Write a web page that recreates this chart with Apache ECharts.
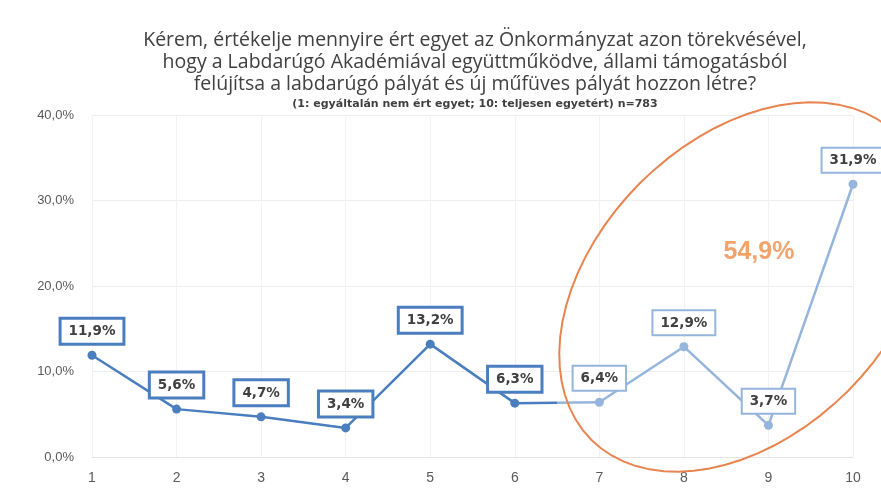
<!DOCTYPE html>
<html>
<head>
<meta charset="utf-8">
<script src="https://cdn.jsdelivr.net/npm/echarts@6/dist/echarts.min.js"></script>
<style>
  html, body { margin: 0; padding: 0; background: #fff; }
  #chart { width: 881px; height: 495px; }
</style>
</head>
<body>
<div id="chart"></div>
<script>
// scale points 1..10
var categories = ['1', '2', '3', '4', '5', '6', '7', '8', '9', '10'];
// share of answers, percent
var shares = [11.9, 5.6, 4.7, 3.4, 13.2, 6.3, 6.4, 12.9, 3.7, 31.9];
var yTicks = [0, 10, 20, 30, 40];
var topShare = '54,9%';

var titleLines = [
  'Kérem, értékelje mennyire ért egyet az Önkormányzat azon törekvésével,',
  'hogy a Labdarúgó Akadémiával együttműködve, állami támogatásból',
  'felújítsa a labdarúgó pályát és új műfüves pályát hozzon létre?'
];
var subTitle = '(1: egyáltalán nem ért egyet; 10: teljesen egyetért) n=783';

var DARK = '#4a7ebf';
var LIGHT = '#95b5dc';
var ORANGE = '#e8844f';
var SPLIT = 6; // answers 7-10 are drawn light

function pct(v) {
  return v.toFixed(1).replace('.', ',') + '%';
}

// keep only values in [from, to), null elsewhere
function part(from, to) {
  return shares.map(function (v, i) { return (i >= from && i < to) ? v : null; });
}

var chart = echarts.init(document.getElementById('chart'));

function labelOf(color, width) {
  return {
    show: true,
    position: 'top',
    distance: 8,
    formatter: function (p) { return pct(p.value); },
    backgroundColor: '#fff',
    borderColor: color,
    borderWidth: width,
    padding: [5, 7, 4, 7],
    color: '#404040',
    fontWeight: 'bold',
    fontSize: 13.5,
    fontFamily: 'DejaVu Sans'
  };
}

// orange ring round the 7-10 answers
var cx = 744, cy = 287, ra = 216, rb = 147, ang = Math.PI / 4;
var ringPts = [];
for (var k = 0; k < 72; k++) {
  var t = k / 72 * Math.PI * 2;
  var ex = ra * Math.cos(t), ey = rb * Math.sin(t);
  ringPts.push([cx + ex * Math.cos(ang) + ey * Math.sin(ang),
                cy - ex * Math.sin(ang) + ey * Math.cos(ang)]);
}

var option = {
  backgroundColor: '#fff',
  animation: false,
  title: [
    {
      text: titleLines.join('\n'),
      left: 470, top: 24, textAlign: 'center',
      textStyle: { fontFamily: 'Open Sans', fontSize: 19.5, fontWeight: 'normal', color: '#404040', lineHeight: 22 }
    },
    {
      text: subTitle,
      left: 470, top: 94, textAlign: 'center',
      textStyle: { fontFamily: 'DejaVu Sans', fontSize: 11, fontWeight: 'bold', color: '#404040' }
    }
  ],
  grid: { left: 92, right: 28, top: 115, bottom: 38 },
  xAxis: {
    type: 'category',
    data: categories,
    boundaryGap: false,
    axisLine: { lineStyle: { color: '#e4e4e4' } },
    axisTick: { show: false },
    splitLine: { show: true, lineStyle: { color: '#f2f2f2' } },
    axisLabel: { color: '#595959', fontSize: 14, margin: 14, fontFamily: 'Liberation Sans' }
  },
  yAxis: {
    type: 'value',
    min: yTicks[0], max: yTicks[yTicks.length - 1], interval: 10,
    axisLine: { show: false },
    axisTick: { show: false },
    splitLine: { lineStyle: { color: '#eeeeee' } },
    axisLabel: { color: '#595959', fontSize: 13, margin: 18, fontFamily: 'Liberation Sans',
      formatter: function (v) { return pct(v); } }
  },
  series: [
    {
      // link 6 -> 7, fading from dark to light
      type: 'line',
      data: part(SPLIT - 1, SPLIT + 1),
      symbol: 'none',
      lineStyle: {
        width: 2.5,
        color: new echarts.graphic.LinearGradient(0, 0, 1, 0, [
          { offset: 0, color: DARK }, { offset: 0.5, color: DARK },
          { offset: 0.5, color: LIGHT }, { offset: 1, color: LIGHT }
        ])
      },
      z: 1
    },
    {
      type: 'line',
      data: part(0, SPLIT),
      symbol: 'circle',
      symbolSize: 9,
      itemStyle: { color: DARK },
      lineStyle: { width: 2.5, color: DARK },
      label: labelOf(DARK, 3),
      z: 2
    },
    {
      type: 'line',
      data: part(SPLIT, shares.length),
      symbol: 'circle',
      symbolSize: 9,
      itemStyle: { color: LIGHT },
      lineStyle: { width: 2.5, color: LIGHT },
      label: labelOf(LIGHT, 2),
      z: 2
    }
  ],
  graphic: [
    {
      type: 'polygon',
      shape: { points: ringPts, smooth: 0 },
      style: { fill: 'none', stroke: ORANGE, lineWidth: 2 },
      z: 10
    },
    {
      type: 'text',
      x: 759, y: 252,
      style: { text: topShare, fill: '#f2a36c', font: 'bold 25px "Liberation Sans"', align: 'center', verticalAlign: 'middle' },
      z: 10
    }
  ]
};

chart.setOption(option);
</script>
</body>
</html>
